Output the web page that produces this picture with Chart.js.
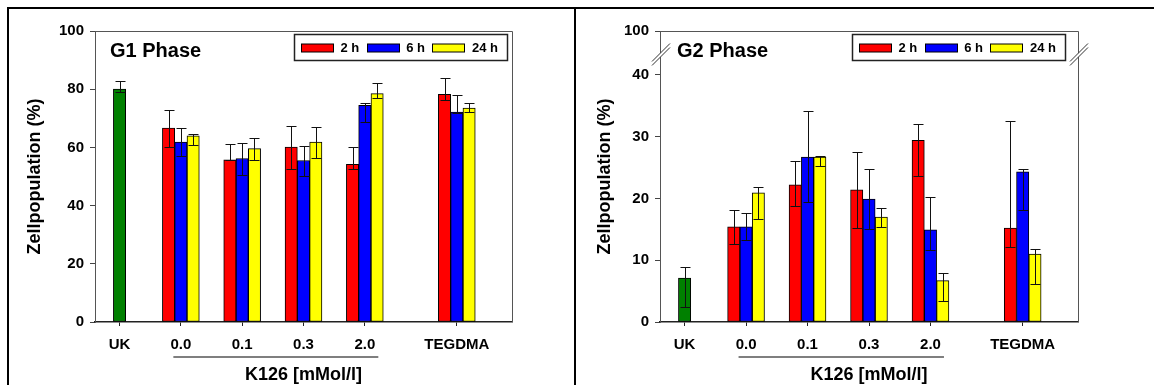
<!DOCTYPE html>
<html>
<head>
<meta charset="utf-8">
<script src="https://cdn.jsdelivr.net/npm/chart.js@4.4.0/dist/chart.umd.min.js"></script>
<style>
  body { margin: 0; background: #fff; }
  #wrap { position: relative; width: 1154px; height: 385px; overflow: hidden; }
  #frame { position: absolute; left: 7px; top: 7px; width: 1147px; height: 400px;
           border-top: 2px solid #000; border-left: 2px solid #000; box-sizing: border-box; }
  #divider { position: absolute; left: 574px; top: 7px; width: 2px; height: 378px; background: #000; }
  .panel { position: absolute; top: 0; width: 577px; height: 385px; }
</style>
</head>
<body>
<div id="wrap">
  <div id="frame"></div>
  <div id="divider"></div>
  <div class="panel" style="left:0"><canvas id="g1-Chart" width="577" height="385"></canvas></div>
  <div class="panel" style="left:577px"><canvas id="g2-Chart" width="577" height="385"></canvas></div>
</div>
<script>
// categories on the x axis
const xLabels = ["UK", "0.0", "0.1", "0.3", "2.0", "TEGDMA"];
const xPos = [0, 1, 2, 3, 4, 5.5];
const seriesNames = ["2 h", "6 h", "24 h"];

// G1 phase (%) : value, error up, error down
const g1UK = [80.0, 2.9, 0.8];
const g1h2 = [66.6, 55.7, 60.1, 54.2, 78.2];
const g1h2Up = [6.3, 5.3, 7.3, 6.0, 5.7];
const g1h2Down = [6.3, 0.2, 7.5, 1.6, 1.8];
const g1h6 = [61.8, 56.2, 55.5, 74.5, 72.1];
const g1h6Up = [4.7, 5.3, 5.0, 0.9, 5.8];
const g1h6Down = [4.7, 5.6, 5.3, 5.8, 0.3];
const g1h24 = [64.0, 59.6, 61.8, 78.5, 73.5];
const g1h24Up = [0.6, 3.6, 5.2, 3.6, 1.6];
const g1h24Down = [3.2, 4.1, 5.3, 1.6, 1.5];

// G2 phase (%)
const g2UK = [7.1, 1.8, 4.7];
const g2h2 = [15.4, 22.2, 21.4, 29.4, 15.2];
const g2h2Up = [2.7, 3.9, 6.1, 2.7, 17.3];
const g2h2Down = [2.8, 3.4, 6.2, 5.7, 3.0];
const g2h6 = [15.4, 26.7, 19.9, 14.9, 24.3];
const g2h6Up = [2.2, 7.4, 4.8, 5.4, 0.4];
const g2h6Down = [2.1, 7.3, 4.9, 3.3, 6.2];
const g2h24 = [20.9, 26.7, 17.0, 6.7, 11.0];
const g2h24Up = [0.9, 0.1, 1.5, 1.2, 0.8];
const g2h24Down = [4.2, 1.4, 1.6, 3.3, 4.8];

// y ticks
const g1Ticks = [0, 20, 40, 60, 80, 100];
const g2Ticks = [0, 10, 20, 30, 40];
const g2TopLabel = "100";
const g2AxisTop = 47.1;   // broken axis: top of the lower segment
const g2BreakAt = 43.3;

const FONT = '"Liberation Sans", Arial, sans-serif';
Chart.defaults.font.family = FONT;
Chart.defaults.color = "#000";

const groupPos = xPos.slice(1);

function series(vals) {
  return vals.map((v, i) => ({ x: groupPos[i], y: v }));
}

function decorPlugin(o) {
  return {
    id: "decor",
    afterDatasetsDraw(chart) {
      const c = chart.ctx;
      const y = chart.scales.y;
      c.save();
      c.strokeStyle = "#111";
      c.lineWidth = 1;
      chart.data.datasets.forEach((ds, di) => {
        const meta = chart.getDatasetMeta(di);
        meta.data.forEach((el, i) => {
          const v = ds.data[i].y;
          const top = Math.round(y.getPixelForValue(v + ds.errUp[i])) + 0.5;
          const bot = Math.round(y.getPixelForValue(v - ds.errDown[i])) + 0.5;
          const x = Math.round(el.x) + 0.5;
          c.beginPath();
          c.moveTo(x, top); c.lineTo(x, bot);
          c.moveTo(x - 5, top); c.lineTo(x + 5, top);
          c.moveTo(x - 5, bot); c.lineTo(x + 5, bot);
          c.stroke();
        });
      });
      c.restore();
    },
    afterDraw(chart) {
      const c = chart.ctx;
      const a = chart.chartArea;
      const xs = chart.scales.x;
      const ys = chart.scales.y;
      c.save();
      // top and right frame
      c.strokeStyle = "#555";
      c.lineWidth = 1;
      c.beginPath();
      c.moveTo(a.left, a.top + 0.5);
      c.lineTo(Math.round(a.right) + 0.5, a.top + 0.5);
      c.lineTo(Math.round(a.right) + 0.5, a.bottom);
      c.stroke();

      // axis breaks
      if (o.breakAt !== undefined) {
        const by = ys.getPixelForValue(o.breakAt);
        [a.left, a.right].forEach(bx => {
          c.fillStyle = "#fff";
          c.beginPath();
          c.moveTo(bx - 8, by + 7);
          c.lineTo(bx + 10, by - 11);
          c.lineTo(bx + 10, by - 7);
          c.lineTo(bx - 8, by + 11);
          c.closePath();
          c.fill();
          c.strokeStyle = "#333";
          c.beginPath();
          c.moveTo(bx - 8, by + 7); c.lineTo(bx + 10, by - 11);
          c.moveTo(bx - 8, by + 11); c.lineTo(bx + 10, by - 7);
          c.stroke();
        });
      }

      // phase title
      c.fillStyle = "#000";
      c.font = "bold 20px " + FONT;
      c.textBaseline = "alphabetic";
      c.textAlign = "left";
      c.fillText(o.title, a.left + o.titleDx, 57);

      // x title with underline
      c.font = "bold 18px " + FONT;
      c.textAlign = "center";
      c.fillText("K126 [mMol/l]", xs.getPixelForValue(3), 380);
      c.strokeStyle = "#555";
      c.lineWidth = 1.5;
      c.beginPath();
      c.moveTo(xs.getPixelForValue(1) - 7.5, 357);
      c.lineTo(xs.getPixelForValue(4) + 13.5, 357);
      c.stroke();

      // legend box
      const items = chart.data.datasets.filter(d => d.inLegend);
      c.font = "bold 13px " + FONT;
      const sw = 32, gap = 7.5, itemGap = 7.5, padL = 7, padR = 9;
      let w = padL + padR;
      items.forEach((d, i) => { w += sw + gap + c.measureText(d.label).width + (i ? itemGap : 0); });
      const right = a.right - o.legendRight;
      const left = right - w;
      const top = 34.5, h = 26;
      c.strokeStyle = "#222";
      c.lineWidth = 1.5;
      c.strokeRect(Math.round(left) + 0.5, top, Math.round(w), h);
      let x = left + padL;
      c.textAlign = "left";
      c.textBaseline = "middle";
      c.lineWidth = 1;
      items.forEach(d => {
        c.fillStyle = d.backgroundColor;
        c.fillRect(Math.round(x), top + 9.5, sw, 8);
        c.strokeStyle = "#000";
        c.strokeRect(Math.round(x) + 0.5, top + 9.5, sw, 8);
        x += sw + gap;
        c.fillStyle = "#000";
        c.fillText(d.label, x, top + h / 2 + 1);
        x += c.measureText(d.label).width + itemGap;
      });
      c.restore();
    }
  };
}

function buildChart(id, o) {
  const ctx = document.getElementById(id);
  if (!ctx) {
    console.error("Canvas element not found");
    return;
  }
  const bar = { borderColor: "#000", borderWidth: 1, borderSkipped: false, barThickness: 12.3 };
  new Chart(ctx, {
    type: "bar",
    data: {
      datasets: [
        { label: "UK", data: [{ x: xPos[0], y: o.uk[0] }], errUp: [o.uk[1]], errDown: [o.uk[2]],
          backgroundColor: "#008000", grouped: false, ...bar },
        { label: seriesNames[0], data: series(o.h2), errUp: o.h2Up, errDown: o.h2Down,
          backgroundColor: "#ff0000", inLegend: true, ...bar },
        { label: seriesNames[1], data: series(o.h6), errUp: o.h6Up, errDown: o.h6Down,
          backgroundColor: "#0000ff", inLegend: true, ...bar },
        { label: seriesNames[2], data: series(o.h24), errUp: o.h24Up, errDown: o.h24Down,
          backgroundColor: "#ffff00", inLegend: true, ...bar },
      ],
    },
    options: {
      responsive: false,
      animation: false,
      events: [],
      layout: { padding: { left: 0, top: 31, right: o.padRight, bottom: 0 } },
      plugins: { legend: { display: false }, tooltip: { enabled: false } },
      scales: {
        x: {
          type: "linear",
          min: -0.4,
          max: 6.4,
          offset: false,
          afterBuildTicks: s => { s.ticks = xPos.map(v => ({ value: v })); },
          afterFit: s => { s.height = 63; },
          ticks: {
            autoSkip: false, maxRotation: 0, padding: 10,
            font: { size: 15, weight: "bold" },
            callback: (v, i) => xLabels[i],
          },
          grid: { drawOnChartArea: false, drawTicks: true, tickLength: 4, color: "#222", offset: false },
          border: { color: "#222", width: 1.5 },
        },
        y: {
          min: 0,
          max: o.yMax,
          afterBuildTicks: s => { s.ticks = o.yTicks.map(v => ({ value: v })); },
          afterFit: s => { s.width = o.axisLeft; },
          ticks: {
            padding: 6,
            font: { size: 15, weight: "bold" },
            callback: o.yLabel,
          },
          grid: { drawOnChartArea: false, drawTicks: true, tickLength: 5, color: "#444" },
          border: { color: "#555", width: 1 },
          title: {
            display: true,
            text: "Zellpopulation (%)",
            font: { size: 18, weight: "bold" },
            padding: { top: o.titlePad, bottom: 0 },
          },
        },
      },
    },
    plugins: [decorPlugin(o)],
  });
}

document.addEventListener("DOMContentLoaded", () => {
  buildChart("g1-Chart", {
    uk: g1UK, h2: g1h2, h2Up: g1h2Up, h2Down: g1h2Down,
    h6: g1h6, h6Up: g1h6Up, h6Down: g1h6Down,
    h24: g1h24, h24Up: g1h24Up, h24Down: g1h24Down,
    yMax: 100, yTicks: g1Ticks, yLabel: v => v,
    axisLeft: 95, padRight: 65, titlePad: 24,
    title: "G1 Phase", titleDx: 15, legendRight: 5,
  });

  buildChart("g2-Chart", {
    uk: g2UK, h2: g2h2, h2Up: g2h2Up, h2Down: g2h2Down,
    h6: g2h6, h6Up: g2h6Up, h6Down: g2h6Down,
    h24: g2h24, h24Up: g2h24Up, h24Down: g2h24Down,
    yMax: g2AxisTop, yTicks: g2Ticks.concat([g2AxisTop]),
    yLabel: v => (v === g2AxisTop ? g2TopLabel : v),
    breakAt: g2BreakAt,
    axisLeft: 83, padRight: 76, titlePad: 17,
    title: "G2 Phase", titleDx: 17, legendRight: 13,
  });
});
</script>
</body>
</html>
